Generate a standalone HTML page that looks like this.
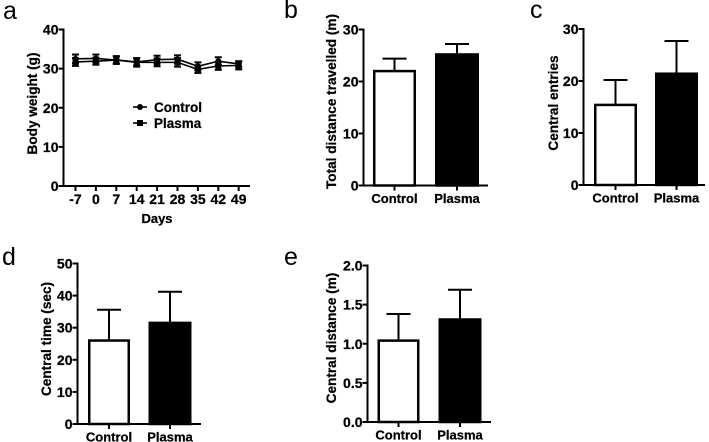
<!DOCTYPE html>
<html lang="en">
<head>
<meta charset="utf-8">
<title>Body weight and open field results</title>
<style>
html,body{margin:0;padding:0;background:#fff;}
body{width:709px;height:442px;overflow:hidden;}
svg{display:block;filter:blur(0.3px);}
text{font-family:"Liberation Sans",sans-serif;fill:#000;}
.t{font-weight:bold;font-size:13px;stroke:#000;stroke-width:0.25px;}
.p{font-size:25px;}
</style>
</head>
<body>
<svg id="fig" xmlns="http://www.w3.org/2000/svg" width="709" height="442" viewBox="0 0 709 442">
<rect width="709" height="442" fill="#fff"/>
</svg>
<script>
// Panel a data
const days = ['-7','0','7','14','21','28','35','42','49'];
const controlWeight = [32.5,32.6,32.2,31.7,32.3,32.4,30.6,31.9,31.2];
const plasmaWeight = [31.7,31.9,32.2,31.6,31.6,31.6,29.8,30.7,30.8];
const controlWeightErr = [1.1,1.0,1.0,0.9,1.0,1.0,1.0,1.0,0.7];
const plasmaWeightErr = [1.0,0.9,0.9,1.1,1.0,1.1,0.9,1.0,1.0];
const weightTicks = [0,10,20,30,40];
// Bar panels data
const groups = ['Control','Plasma'];
const distanceMeans = [22.0,25.2];
const distanceErrs = [2.4,2.0];
const distanceTicks = ['0','10','20','30'];
const entriesMeans = [15.4,21.4];
const entriesErrs = [4.8,6.3];
const entriesTicks = ['0','10','20','30'];
const timeMeans = [26.0,31.5];
const timeErrs = [9.6,9.7];
const timeTicks = ['0','10','20','30','40','50'];
const centralDistMeans = [1.04,1.31];
const centralDistErrs = [0.34,0.38];
const centralDistTicks = ['0.0','0.5','1.0','1.5','2.0'];

const svg = document.getElementById('fig');
const NS = 'http://www.w3.org/2000/svg';
function mk(parent, tag, attrs, txt) {
  const el = document.createElementNS(NS, tag);
  for (const k in attrs) el.setAttribute(k, attrs[k]);
  if (txt !== undefined) el.textContent = txt;
  parent.appendChild(el);
  return el;
}
function line(parent, x1, y1, x2, y2, w) {
  return mk(parent, 'line', {x1:x1, y1:y1, x2:x2, y2:y2, stroke:'#000', 'stroke-width':w});
}
function yAxis(g, x, yScale, ticks, right, y0) {
  const ax = line(g, x, yScale(+ticks[ticks.length-1]) - 1, x, y0 + 1, 2);
  
  
  const xa = line(g, x - 1, y0, right, y0, 2);
  
  
  ticks.forEach(function (t) {
    const y = yScale(+t);
    const tk = line(g, x - 5, y, x, y, 2);
    
    
    const lb = mk(g, 'text', {x: x - 5, y: y + 5, 'text-anchor':'end', 'class':'t', style:'font-size:14px'}, t);
    
    
  });
}
function yTitle(g, x, cy, label) {
  const t = mk(g, 'text', {x:x, y:cy, 'text-anchor':'middle', 'class':'t', style:'font-size:13.6px', transform:'rotate(-90 ' + x + ' ' + cy + ')'}, label);
  
  
}
function panelLetter(g, x, y, ch) {
  const t = mk(g, 'text', {x:x, y:y, 'class':'p'}, ch);
  
  
}
function barPanel(cfg) {
  const g = mk(svg, 'g', {});
  
  
  const top = +cfg.ticks[cfg.ticks.length-1];
  const yScale = function (v) { return cfg.y0 - (cfg.y0 - cfg.yTop) * v / top; };
  panelLetter(g, cfg.letterX, cfg.letterY, cfg.letter);
  cfg.means.forEach(function (m, i) {
    const b = cfg.bars[i];
    const cx = (b[0] + b[1]) / 2;
    const yv = yScale(m);
    const ye = yScale(m + cfg.errs[i]);
    const stem = line(g, cx, ye, cx, yv, 2);
    
    
    const cap = line(g, cx - 12, ye, cx + 12, ye, 2);
    
    
    const r = mk(g, 'rect', {x:b[0] + 1.25, y:yv, width:b[1] - b[0] - 2.5, height:cfg.y0 - yv, fill:i ? '#000' : '#fff', stroke:'#000', 'stroke-width':2.5});
    
    
    const tk = line(g, cx, cfg.y0, cx, cfg.y0 + 5, 2);
    
    
    const lb = mk(g, 'text', {x:cx, y:cfg.y0 + 17.5, 'text-anchor':'middle', 'class':'t'}, groups[i]);
    
    
  });
  yAxis(g, cfg.x, yScale, cfg.ticks, cfg.right, cfg.y0);
  yTitle(g, cfg.titleX, cfg.titleY, cfg.title);
}

// Panel a
(function () {
  const g = mk(svg, 'g', {});
  
  
  const y0 = 186, yTop = 29.5;
  const yScale = function (v) { return y0 - (y0 - yTop) * v / 40; };
  const xScale = function (i) { return 75.5 + i * 20.4; };
  panelLetter(g, 3, 19, 'a');
  yAxis(g, 63.5, yScale, weightTicks, 250, y0);
  yTitle(g, 37, 103.5, 'Body weight (g)');
  days.forEach(function (d, i) {
    const x = xScale(i);
    const tk = line(g, x, y0, x, y0 + 5, 2);
    
    
    const lb = mk(g, 'text', {x:x, y:y0 + 18, 'text-anchor':'middle', 'class':'t', style:'font-size:14px'}, d);
    
    
  });
  const dc = mk(g, 'text', {x:157, y:223, 'text-anchor':'middle', 'class':'t'}, 'Days');
  
  

  function series(vals, errs, name, square) {
    const pts = vals.map(function (v, i) { return xScale(i) + ',' + yScale(v); }).join(' ');
    const pl = mk(g, 'polyline', {points:pts, fill:'none', stroke:'#000', 'stroke-width':1.6});
    
    
    vals.forEach(function (v, i) {
      const x = xScale(i), y = yScale(v);
      const hi = yScale(v + errs[i]), lo = yScale(v - errs[i]);
      const st = line(g, x, hi, x, lo, 2);
      
      
      const c1 = line(g, x - 3.5, hi, x + 3.5, hi, 2);
      
      
      const c2 = line(g, x - 3.5, lo, x + 3.5, lo, 2);
      
      
      let pt;
      if (square) pt = mk(g, 'rect', {x:x - 3, y:y - 3, width:6, height:6, fill:'#000'});
      else pt = mk(g, 'circle', {cx:x, cy:y, r:3, fill:'#000'});
      
      
    });
  }
  series(controlWeight, controlWeightErr, 'control', false);
  series(plasmaWeight, plasmaWeightErr, 'plasma', true);

  const lg = mk(g, 'g', {});
  
  
  line(lg, 133, 107, 147, 107, 1.6);
  mk(lg, 'circle', {cx:140, cy:107, r:3, fill:'#000'});
  const l1 = mk(lg, 'text', {x:154, y:112, 'class':'t', style:'font-size:13.5px'}, 'Control');
  
  
  line(lg, 133, 123, 147, 123, 1.6);
  mk(lg, 'rect', {x:137, y:120, width:6, height:6, fill:'#000'});
  const l2 = mk(lg, 'text', {x:154, y:128, 'class':'t', style:'font-size:13.5px'}, 'Plasma');
  
  
})();

barPanel({name:'panel-b-total-distance', letter:'b', letterX:284, letterY:18, x:363.5, right:488, y0:185.5, yTop:29.5,
  ticks:distanceTicks, means:distanceMeans, errs:distanceErrs, bars:[[373,416],[435,479]],
  title:'Total distance travelled (m)', titleX:336, titleY:101.5});
barPanel({name:'panel-c-central-entries', letter:'c', letterX:530, letterY:18, x:583.5, right:705, y0:185, yTop:29,
  ticks:entriesTicks, means:entriesMeans, errs:entriesErrs, bars:[[594,637],[655,698]],
  title:'Central entries', titleX:558, titleY:103});
barPanel({name:'panel-d-central-time', letter:'d', letterX:2, letterY:265, x:77.5, right:201, y0:424, yTop:263.5,
  ticks:timeTicks, means:timeMeans, errs:timeErrs, bars:[[88,130],[148.5,191.5]],
  title:'Central time (sec)', titleX:51, titleY:339});
barPanel({name:'panel-e-central-distance', letter:'e', letterX:284, letterY:265, x:367.5, right:491, y0:422, yTop:265.5,
  ticks:centralDistTicks, means:centralDistMeans, errs:centralDistErrs, bars:[[377.5,419.5],[438.5,481.5]],
  title:'Central distance (m)', titleX:336, titleY:338});
</script>
</body>
</html>
